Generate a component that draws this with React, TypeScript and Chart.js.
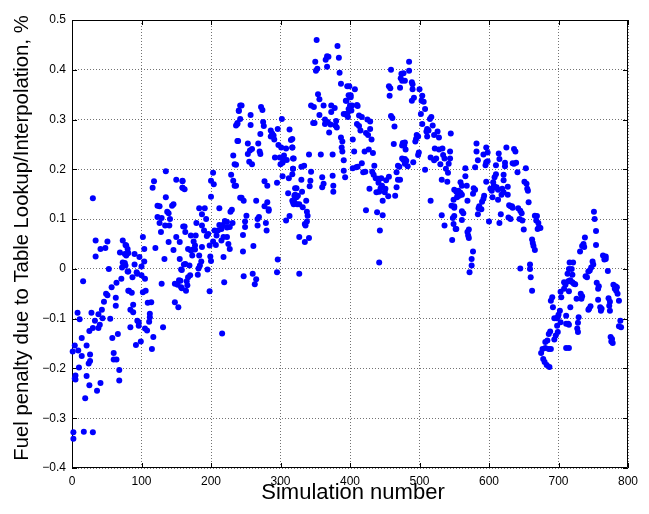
import React, { useEffect, useRef } from 'react';
import { Chart, registerables } from 'chart.js';

Chart.register(...registerables);

type Pt = [number, number];

// [simulation number, fuel penalty %], grouped by range
const runs000to080: Pt[] = [
  [2,-0.328],[2,-0.341],[17,-0.327],[30,-0.328],[19,-0.26],[5,-0.214],[4,-0.22],[5,-0.222],[21,-0.215],[25,-0.234],
  [36,-0.245],[41,-0.229],[68,-0.224],[10,-0.198],[1,-0.166],[4,-0.154],[9,-0.164],[14,-0.175],[21,-0.154],[26,-0.172],
  [26,-0.185],[24,-0.19],[14,-0.139],[25,-0.125],[30,-0.119],[38,-0.119],[40,-0.112],[33,-0.104],[8,-0.088],[11,-0.101],
  [28,-0.088],[38,-0.091],[44,-0.099],[43,-0.082],[46,-0.066],[49,-0.05],[51,-0.053],[57,-0.037],[64,-0.028],[71,-0.02],
  [63,-0.058],[63,-0.074],[55,-0.1],[58,-0.139],[66,-0.131],[60,-0.169],[60,-0.182],[64,-0.182],[68,-0.203],[16,-0.025],
  [53,0],[34,0.025],[41,0.04],[48,0.042],[34,0.057],[51,0.055],[73,0.057],[77,0.048],[69,0.033],[76,0.03],
  [73,0.013],[77,0.007],[72,0.003],[80,-0.005],[81,-0.044],[30,0.142],
];

const runs080to160: Pt[] = [
  [135,0.196],[118,0.176],[116,0.163],[150,0.179],[159,0.176],[159,0.163],[135,0.144],[123,0.127],[126,0.126],[144,0.127],
  [146,0.13],[137,0.115],[139,0.112],[123,0.104],[129,0.102],[141,0.1],[126,0.092],[134,0.087],[140,0.087],[160,0.085],
  [128,0.074],[150,0.064],[102,0.064],[139,0.054],[78,0.047],[80,0.04],[120,0.042],[104,0.04],[146,0.038],[79,0.03],
  [81,0.032],[78,0.027],[90,0.03],[97,0.024],[104,0.015],[133,0.02],[155,0.02],[76,0.012],[90,0.009],[100,0.005],
  [161,0.009],[81,-0.005],[93,-0.007],[94,-0.01],[157,-0.001],[87,-0.017],[100,-0.013],[105,-0.02],[154,-0.023],[129,-0.03],
  [148,-0.03],[152,-0.032],[157,-0.037],[82,-0.044],[86,-0.048],[102,-0.047],[106,-0.044],[148,-0.067],[153,-0.077],[109,-0.068],
  [114,-0.067],[88,-0.072],[84,-0.082],[88,-0.087],[112,-0.09],[112,-0.097],[111,-0.106],[94,-0.104],[96,-0.107],[96,-0.114],
  [84,-0.117],[105,-0.12],[108,-0.124],[131,-0.117],[117,-0.137],[99,-0.146],[92,-0.153],[115,-0.161],
];

const runs160to240: Pt[] = [
  [242,0.328],[240,0.318],[238,0.291],[236,0.288],[238,0.257],[232,0.228],[234,0.21],[203,0.193],[229,0.189],[159,0.177],
  [200,0.177],[204,0.17],[232,0.177],[234,0.167],[159,0.163],[162,0.16],[242,0.143],[200,0.145],[183,0.122],[191,0.122],
  [212,0.122],[230,0.119],[228,0.115],[187,0.11],[193,0.1],[179,0.092],[220,0.096],[223,0.094],[162,0.085],[187,0.087],
  [212,0.088],[217,0.088],[223,0.083],[227,0.084],[231,0.092],[163,0.074],[190,0.077],[205,0.077],[210,0.077],[215,0.08],
  [196,0.07],[194,0.066],[208,0.067],[218,0.064],[223,0.064],[171,0.067],[178,0.067],[155,0.054],[175,0.055],[177,0.047],
  [174,0.039],[177,0.039],[203,0.055],[207,0.048],[215,0.057],[225,0.05],[227,0.04],[167,0.04],[171,0.037],[187,0.044],
  [198,0.047],[183,0.027],[173,0.027],[199,0.025],[200,0.016],[218,0.024],[186,0.015],[184,0.007],[163,0.01],[169,0.007],
  [158,-0.002],[182,0.001],[195,-0.001],[170,-0.013],[167,-0.017],[181,-0.012],[219,-0.027],[165,-0.025],[166,-0.033],[156,-0.024],
  [158,-0.039],[164,-0.044],[198,-0.045],[216,-0.13],
];

const runs240to320: Pt[] = [
  [244,0.328],[240,0.317],[257,0.309],[242,0.301],[272,0.325],[274,0.319],[238,0.293],[257,0.289],[275,0.295],[276,0.287],
  [302,0.301],[286,0.278],[288,0.272],[286,0.266],[290,0.268],[291,0.26],[296,0.281],[313,0.28],[271,0.271],[239,0.257],
  [253,0.252],[268,0.252],[297,0.249],[301,0.244],[315,0.259],[259,0.241],[256,0.238],[253,0.231],[270,0.236],[271,0.231],
  [308,0.242],[317,0.244],[292,0.224],[299,0.224],[305,0.228],[304,0.218],[309,0.219],[318,0.222],[300,0.21],[303,0.213],
  [236,0.209],[255,0.215],[259,0.21],[318,0.201],[303,0.186],[312,0.182],[277,0.176],[281,0.167],[295,0.173],[236,0.167],
  [321,0.162],[311,0.152],[320,0.147],[244,0.143],[247,0.137],[265,0.137],[281,0.134],[277,0.126],[319,0.13],[318,0.134],
  [283,0.117],[283,0.12],[313,0.106],[251,0.107],[269,0.104],[267,0.1],[308,0.097],[249,0.095],[249,0.084],[267,0.087],
  [279,0.092],[280,0.077],[246,0.068],[261,0.046],[246,0.035],[296,0.019],[247,-0.015],[260,-0.01],[265,-0.021],[263,-0.031],
  [295,-0.007],
];

const runs320to400: Pt[] = [
  [352,0.46],[382,0.448],[350,0.416],[367,0.427],[369,0.426],[365,0.42],[384,0.424],[367,0.406],[351,0.398],[353,0.402],
  [385,0.394],[387,0.372],[399,0.367],[354,0.351],[356,0.341],[401,0.349],[401,0.345],[395,0.338],[344,0.328],[348,0.325],
  [362,0.328],[373,0.328],[378,0.323],[403,0.328],[356,0.309],[373,0.315],[391,0.311],[396,0.311],[397,0.305],[364,0.3],
  [364,0.291],[368,0.295],[347,0.293],[349,0.293],[380,0.297],[379,0.288],[372,0.29],[381,0.284],[370,0.274],[387,0.264],
  [389,0.256],[388,0.244],[389,0.236],[341,0.23],[358,0.23],[375,0.23],[317,0.261],[317,0.244],[319,0.222],[391,0.218],
  [334,0.207],[330,0.205],[318,0.201],[344,0.195],[343,0.177],[391,0.197],[393,0.184],[360,0.184],[375,0.187],[317,0.19],
  [330,0.179],[362,0.171],[360,0.164],[376,0.167],[376,0.155],[323,0.162],[325,0.147],[331,0.155],[342,0.166],[321,0.149],
  [323,0.144],[317,0.137],[320,0.134],[324,0.13],[327,0.13],[337,0.137],[332,0.124],[338,0.115],[339,0.107],[338,0.095],
  [336,0.087],[335,0.09],[327,0.064],[341,0.062],[335,0.054],[327,-0.01],
];

const runs400to480: Pt[] = [
  [459,0.4],[477,0.393],[473,0.383],[479,0.378],[456,0.367],[458,0.363],[472,0.364],[457,0.348],[396,0.367],[398,0.349],
  [407,0.361],[394,0.338],[400,0.328],[398,0.321],[402,0.318],[410,0.329],[411,0.327],[394,0.311],[395,0.309],[413,0.308],
  [417,0.305],[425,0.3],[429,0.296],[459,0.307],[461,0.303],[410,0.291],[413,0.287],[429,0.281],[464,0.286],[415,0.278],
  [423,0.273],[426,0.269],[404,0.26],[431,0.26],[463,0.251],[479,0.254],[478,0.248],[406,0.236],[421,0.236],[427,0.24],
  [433,0.233],[479,0.221],[417,0.212],[404,0.202],[409,0.204],[411,0.205],[435,0.207],[469,0.207],[471,0.205],[419,0.194],
  [422,0.195],[432,0.195],[434,0.189],[467,0.194],[437,0.182],[441,0.181],[445,0.182],[456,0.185],[469,0.179],[472,0.179],
  [452,0.178],[441,0.173],[446,0.167],[444,0.162],[451,0.161],[450,0.154],[428,0.161],[467,0.164],[438,0.154],[442,0.155],
  [455,0.146],[465,0.147],[447,0.137],[423,0.118],[439,0.114],[447,0.108],[443,0.077],[442,0.013],
];

const runs480to560: Pt[] = [
  [485,0.416],[485,0.398],[474,0.392],[475,0.378],[489,0.375],[490,0.371],[490,0.361],[500,0.361],[504,0.348],[503,0.338],
  [506,0.336],[492,0.344],[489,0.338],[508,0.321],[502,0.311],[517,0.305],[515,0.301],[504,0.291],[519,0.288],[511,0.281],
  [513,0.278],[510,0.276],[526,0.276],[528,0.264],[545,0.272],[521,0.269],[496,0.269],[498,0.266],[495,0.261],[494,0.256],
  [511,0.266],[476,0.253],[475,0.248],[480,0.24],[522,0.242],[528,0.24],[533,0.242],[544,0.236],[499,0.234],[498,0.229],
  [534,0.229],[536,0.222],[516,0.224],[521,0.218],[524,0.222],[544,0.222],[475,0.222],[477,0.219],[481,0.217],[483,0.206],
  [479,0.211],[491,0.214],[530,0.21],[542,0.211],[538,0.201],[541,0.193],[508,0.199],[532,0.179],[540,0.175],[555,0.154],
  [555,0.147],[516,0.137],[549,0.139],[546,0.127],[550,0.123],[532,0.108],[536,0.087],[548,0.102],[549,0.09],[553,0.08],
  [547,0.058],
];

const runs560to640: Pt[] = [
  [582,0.252],[596,0.244],[598,0.234],[582,0.236],[625,0.244],[636,0.241],[592,0.23],[614,0.232],[615,0.221],[584,0.218],
  [596,0.214],[598,0.216],[595,0.208],[580,0.204],[610,0.208],[623,0.213],[623,0.206],[634,0.212],[566,0.202],[566,0.186],
  [610,0.19],[608,0.184],[621,0.189],[621,0.178],[596,0.175],[559,0.174],[561,0.167],[606,0.174],[607,0.167],[609,0.164],
  [568,0.167],[602,0.161],[604,0.157],[611,0.164],[613,0.159],[619,0.161],[621,0.154],[627,0.165],[550,0.159],[553,0.155],
  [556,0.157],[559,0.153],[557,0.147],[561,0.149],[554,0.144],[578,0.162],[580,0.159],[577,0.151],[605,0.144],[618,0.149],
  [627,0.149],[593,0.147],[569,0.137],[613,0.139],[592,0.141],[590,0.135],[586,0.126],[589,0.12],[585,0.122],[550,0.126],
  [629,0.128],[633,0.126],[561,0.116],[563,0.112],[584,0.11],[617,0.11],[550,0.106],[628,0.103],[561,0.098],[600,0.095],
  [615,0.092],[552,0.08],[571,0.079],[569,0.074],[570,0.067],[571,0.062],[577,0.035],[575,0.02],[575,0.007],[572,-0.007],
];

const runs640to720: Pt[] = [
  [638,0.236],[636,0.211],[639,0.213],[641,0.194],[653,0.202],[651,0.175],[654,0.171],[655,0.161],[656,0.157],[657,0.134],
  [631,0.126],[634,0.123],[642,0.122],[645,0.117],[647,0.112],[644,0.1],[648,0.097],[631,0.1],[650,0.079],[666,0.107],
  [669,0.106],[668,0.097],[671,0.092],[672,0.084],[670,0.08],[674,0.082],[662,0.059],[663,0.052],[664,0.046],[666,0.038],
  [645,0.001],[659,0.009],[659,0],[660,-0.017],[662,-0.044],[716,0.013],[715,0],[713,-0.01],[708,-0.027],[710,-0.032],
  [715,-0.025],[703,-0.046],[708,-0.04],[691,-0.057],[689,-0.064],[704,-0.057],[692,-0.077],[702,-0.084],[700,-0.092],[694,-0.099],
  [697,-0.099],[699,-0.097],[711,-0.094],[711,-0.11],[703,-0.107],[698,-0.114],[699,-0.127],[696,-0.134],[688,-0.126],[686,-0.131],
  [684,-0.144],[681,-0.147],[694,-0.142],[677,-0.161],[681,-0.159],[686,-0.161],[689,-0.161],[675,-0.169],[711,-0.159],[678,-0.181],
  [680,-0.187],[683,-0.193],[687,-0.197],
];

const runs720to800: Pt[] = [
  [751,0.115],[752,0.1],[754,0.076],[738,0.063],[736,0.05],[734,0.046],[737,0.044],[754,0.048],[731,0.035],[764,0.027],
  [768,0.025],[766,0.019],[768,0.02],[721,0.013],[749,0.015],[750,0.009],[747,0.003],[745,-0.003],[743,-0.005],[719,0],
  [720,-0.012],[771,-0.004],[739,-0.015],[741,-0.017],[717,-0.023],[720,-0.027],[722,-0.03],[724,-0.031],[714,-0.025],[755,-0.028],
  [758,-0.035],[757,-0.04],[779,-0.032],[782,-0.035],[784,-0.037],[783,-0.044],[785,-0.05],[781,-0.04],[732,-0.05],[734,-0.055],
  [733,-0.06],[726,-0.06],[715,-0.045],[757,-0.062],[772,-0.059],[774,-0.066],[773,-0.074],[787,-0.064],[744,-0.08],[746,-0.075],
  [743,-0.082],[760,-0.077],[762,-0.08],[761,-0.084],[774,-0.084],[717,-0.077],[729,-0.097],[728,-0.108],[727,-0.12],[728,-0.127],
  [714,-0.11],[715,-0.112],[789,-0.104],[787,-0.115],[790,-0.117],[775,-0.137],[777,-0.141],[776,-0.146],[778,-0.149],[715,-0.159],
];

const xTickValues = [0, 100, 200, 300, 400, 500, 600, 700, 800];
const yTickValues = [-0.4, -0.3, -0.2, -0.1, 0, 0.1, 0.2, 0.3, 0.4, 0.5];
const xAxisTitle = 'Simulation number';
const yAxisTitle = 'Fuel penalty due to Table Lookup/Interpolation, %';

const FONT = '"Liberation Sans", Arial, Helvetica, sans-serif';

const fmtY = (v: number) => {
  const r = Math.round(v * 10) / 10;
  if (r === 0) return '0';
  return r < 0 ? '\u2212' + String(Math.abs(r)) : String(r);
};

const framePlugin = {
  id: 'matlabFrame',
  beforeDatasetsDraw(chart: any) {
    const { ctx, chartArea } = chart;
    const { left, right, top, bottom } = chartArea;
    const xs = chart.scales.x;
    const ys = chart.scales.y;
    ctx.save();
    ctx.strokeStyle = '#000';
    ctx.lineWidth = 1;
    ctx.beginPath();
    ctx.rect(Math.round(left) + 0.5, Math.round(top) + 0.5, Math.round(right - left) - 1, Math.round(bottom - top) - 1);
    ctx.stroke();
    const tl = 5;
    ctx.beginPath();
    xTickValues.forEach((v) => {
      const px = Math.round(xs.getPixelForValue(v)) + 0.5;
      ctx.moveTo(px, bottom);
      ctx.lineTo(px, bottom - tl);
      ctx.moveTo(px, top);
      ctx.lineTo(px, top + tl);
    });
    yTickValues.forEach((v) => {
      const py = Math.round(ys.getPixelForValue(v)) + 0.5;
      ctx.moveTo(left, py);
      ctx.lineTo(left + tl, py);
      ctx.moveTo(right, py);
      ctx.lineTo(right - tl, py);
    });
    ctx.stroke();
    ctx.restore();
  },
  afterDraw(chart: any) {
    const { ctx } = chart;
    ctx.save();
    ctx.fillStyle = '#000';
    ctx.textAlign = 'center';
    ctx.textBaseline = 'middle';
    ctx.font = `22px ${FONT}`;
    ctx.fillText(xAxisTitle, 353, 493);
    ctx.font = `20.3px ${FONT}`;
    ctx.translate(22, 238);
    ctx.rotate(-Math.PI / 2);
    ctx.fillText(yAxisTitle, 0, 0);
    ctx.restore();
  },
};

export default function App() {
  const canvasRef = useRef<HTMLCanvasElement | null>(null);

  useEffect(() => {
    if (!canvasRef.current) return;
    const allPoints = [
      ...runs000to080, ...runs080to160, ...runs160to240, ...runs240to320, ...runs320to400,
      ...runs400to480, ...runs480to560, ...runs560to640, ...runs640to720, ...runs720to800,
    ].map(([x, y]) => ({ x, y }));

    const gridColor = 'rgba(0,0,0,0.55)';
    const chart = new Chart(canvasRef.current, {
      type: 'scatter',
      data: {
        datasets: [
          {
            data: allPoints,
            backgroundColor: '#0000ff',
            borderWidth: 0,
            pointRadius: 3,
            pointHoverRadius: 3,
            clip: 5,
          } as any,
        ],
      },
      plugins: [framePlugin],
      options: {
        animation: false,
        responsive: false,
        maintainAspectRatio: false,
        devicePixelRatio: 1,
        events: [],
        layout: { padding: { left: 0, right: 21, top: 20, bottom: 0 } },
        plugins: { legend: { display: false }, tooltip: { enabled: false }, title: { display: false } },
        scales: {
          x: {
            type: 'linear',
            min: 0,
            max: 800,
            afterBuildTicks: (s: any) => {
              s.ticks = xTickValues.map((v) => ({ value: v }));
            },
            afterFit: (s: any) => {
              s.height = 46;
            },
            ticks: {
              autoSkip: false,
              maxRotation: 0,
              padding: 6,
              color: '#000',
              font: { family: FONT, size: 12 },
              callback: (v: any) => String(v),
            },
            grid: { color: gridColor, lineWidth: 1, drawTicks: false },
            border: { display: false, dash: [1, 2] },
          },
          y: {
            type: 'linear',
            min: -0.4,
            max: 0.5,
            afterBuildTicks: (s: any) => {
              s.ticks = yTickValues.map((v) => ({ value: v }));
            },
            afterFit: (s: any) => {
              s.width = 72;
            },
            ticks: {
              autoSkip: false,
              padding: 6,
              color: '#000',
              font: { family: FONT, size: 12 },
              callback: (v: any) => fmtY(Number(v)),
            },
            grid: { color: gridColor, lineWidth: 1, drawTicks: false },
            border: { display: false, dash: [1, 2] },
          },
        },
      } as any,
    });
    return () => chart.destroy();
  }, []);

  return (
    <div style={{ position: 'absolute', left: 0, top: 0, width: 649, height: 514, background: '#fff' }}>
      <canvas ref={canvasRef} width={649} height={514} style={{ display: 'block', width: 649, height: 514 }} />
    </div>
  );
}
